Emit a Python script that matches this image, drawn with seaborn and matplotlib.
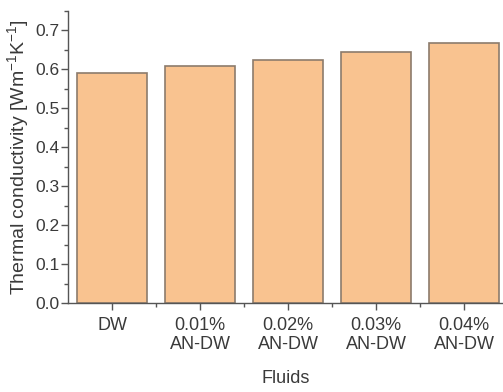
import matplotlib
matplotlib.use("Agg")
import matplotlib.pyplot as plt
from matplotlib.ticker import MultipleLocator, FixedLocator
import seaborn as sns
import pandas as pd

fluids = ["DW", "0.01%\nAN-DW", "0.02%\nAN-DW", "0.03%\nAN-DW", "0.04%\nAN-DW"]
conductivity = [0.590, 0.608, 0.624, 0.644, 0.669]

sns.set_style("ticks")
plt.rcParams["font.family"] = ["Liberation Sans", "DejaVu Sans"]
plt.rcParams["mathtext.fontset"] = "custom"
plt.rcParams["mathtext.rm"] = "Liberation Sans"
plt.rcParams["mathtext.it"] = "Liberation Sans"
text_color = "#3a3a3a"
axis_color = "#555555"

df = pd.DataFrame({"Fluid": fluids, "k": conductivity})

fig = plt.figure(figsize=(5.03, 3.92), dpi=100)
ax = fig.add_axes([68 / 503, 1 - 303 / 392, (503 - 68) / 503, (303 - 11) / 392])

sns.barplot(data=df, x="Fluid", y="k", ax=ax, color="#f9c390", saturation=1,
            edgecolor="#8c7b6c", linewidth=1.2, width=0.8)

ax.set_ylim(0, 0.75)
ax.set_xlim(-0.5, 4.44)
ax.yaxis.set_minor_locator(MultipleLocator(0.05))
ax.xaxis.set_minor_locator(FixedLocator([0.5, 1.5, 2.5, 3.5]))
ax.set_yticks([0, 0.1, 0.2, 0.3, 0.4, 0.5, 0.6, 0.7])
ax.set_yticklabels([f"{v:.1f}" for v in ax.get_yticks()])

for side in ("top", "right"):
    ax.spines[side].set_visible(False)
for side in ("left", "bottom"):
    ax.spines[side].set_color(axis_color)
    ax.spines[side].set_linewidth(1.0)

ax.tick_params(axis="both", which="major", direction="out", length=5, width=1,
               color=axis_color, labelcolor=text_color)
ax.tick_params(axis="y", which="major", labelsize=12.5, pad=1)
ax.tick_params(axis="x", which="major", labelsize=13, pad=5)
ax.tick_params(axis="both", which="minor", direction="out", length=3, width=1,
               color=axis_color)
for lbl in ax.get_xticklabels():
    lbl.set_linespacing(1.2)

ax.set_xlabel("Fluids", fontsize=13, color=text_color, labelpad=12)
ax.set_ylabel("Thermal conductivity [Wm$^{\\mathregular{-1}}$K$^{\\mathregular{-1}}$]",
              fontsize=14, color=text_color, labelpad=3)

fig.savefig("out.png", dpi=100, facecolor="white")
